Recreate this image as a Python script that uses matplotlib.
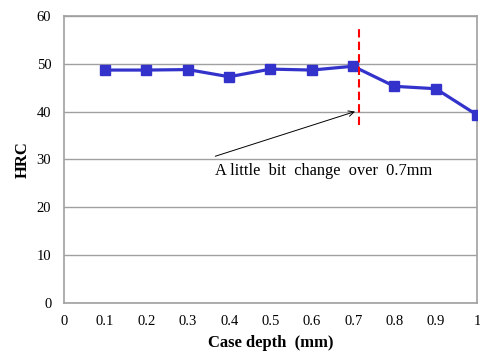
import matplotlib
matplotlib.use('Agg')
import matplotlib.pyplot as plt

# datos
depth = [0.1, 0.2, 0.3, 0.4, 0.5, 0.6, 0.7, 0.8, 0.9, 1.0]
hrc = [48.7, 48.7, 48.8, 47.3, 48.9, 48.7, 49.5, 45.3, 44.8, 39.3]
xticks = [0, 0.1, 0.2, 0.3, 0.4, 0.5, 0.6, 0.7, 0.8, 0.9, 1]
xlabels = ['0', '0.1', '0.2', '0.3', '0.4', '0.5', '0.6', '0.7', '0.8', '0.9', '1']
yticks = [0, 10, 20, 30, 40, 50, 60]

plt.rcParams['font.family'] = ['Liberation Serif', 'DejaVu Serif']

fig = plt.figure(figsize=(4.8, 3.56), dpi=100)
ax = fig.add_axes([0.133, 0.149, 0.861, 0.806])

ax.plot(depth, hrc, color='#3333CC', lw=2.3, marker='s', markersize=7, zorder=3)

# linea roja punteada en 0.7 mm
ax.plot([0.714, 0.714], [37.3, 57.3], color='red', lw=1.5, ls=(0, (4, 2)), zorder=4)

ax.annotate('', xy=(0.711, 40.2), xytext=(0.36, 30.5),
            arrowprops=dict(arrowstyle='->', color='black', lw=0.7))
ax.text(0.366, 27.6, 'A little  bit  change  over  0.7mm', fontsize=11.8,
        ha='left', va='center')

ax.set_xlim(0, 1)
ax.set_ylim(0, 60)
ax.set_xticks(xticks)
ax.set_xticklabels(xlabels)
ax.set_yticks(yticks)
ax.tick_params(length=0, labelsize=10.5)
ax.tick_params(axis='x', pad=9)
ax.tick_params(axis='y', pad=9)
ax.yaxis.grid(True, color='#a0a0a0', lw=1)
ax.set_axisbelow(True)
for s in ax.spines.values():
    s.set_color('#a0a0a0')
    s.set_linewidth(1.2)

ax.set_xlabel('Case depth  (mm)', fontsize=12, fontweight='bold', labelpad=5)
ax.set_ylabel('HRC', fontsize=12, fontweight='bold', labelpad=4)

fig.savefig('out.png', dpi=100)
